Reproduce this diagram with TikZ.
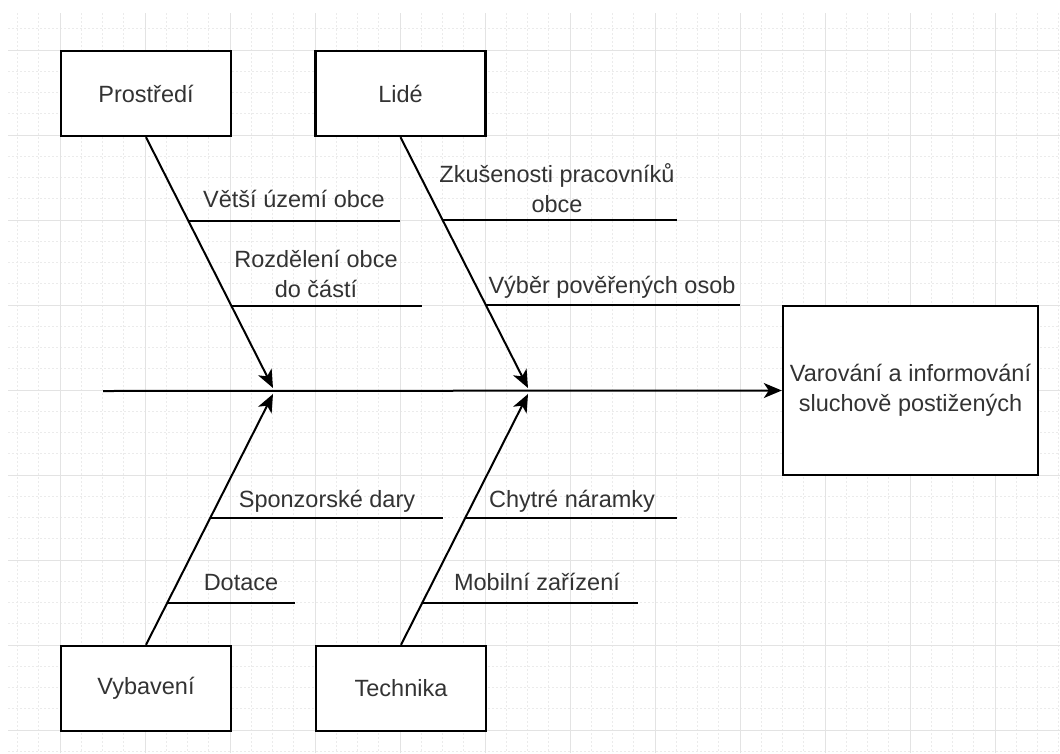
\documentclass[tikz,border=0pt]{standalone}
\usepackage{fontspec}
\setmainfont{Liberation Sans}
\usetikzlibrary{arrows.meta}
\definecolor{txt}{HTML}{333333}
\definecolor{gridminor}{HTML}{EBEBEB}
\definecolor{gridmajor}{HTML}{E3E3E3}
\newcommand\lblfont{\fontsize{23.5}{30}\selectfont}
\newcommand\twoline[2]{\begin{tabular}[b]{@{}c@{}}#1\\#2\end{tabular}}
\begin{document}
\begin{tikzpicture}[x=1pt,y=-1pt,
  box/.style={draw=black, line width=2.4pt, fill=white, minimum width=170pt, minimum height=85pt, inner sep=0pt, font=\lblfont, text=txt},
  bone/.style={line width=2pt},
  arr/.style={-{Stealth[length=18pt,width=15pt,inset=5pt]}},
  lbl/.style={anchor=base, inner sep=0pt, text=txt, font=\lblfont},
  minorgrid/.style={gridminor, line width=0.8pt, dash pattern=on 2pt off 2pt},
  majorgrid/.style={gridmajor, line width=1pt}
]
\fill[white] (0,0) rectangle (1060,753);
\useasboundingbox (0,0) rectangle (1060,753);
% grid
\foreach \i in {0,...,49} \draw[minorgrid] ({17.5+21.25*\i},13) -- ({17.5+21.25*\i},753);
\foreach \j in {0,...,34} \draw[minorgrid] (8,{28.75+21.25*\j}) -- (1060,{28.75+21.25*\j});
\foreach \k in {0,...,11} \draw[majorgrid] ({60+85*\k},13) -- ({60+85*\k},753);
\foreach \k in {0,...,8} \draw[majorgrid] (8,{50+85*\k}) -- (1060,{50+85*\k});

% boxes
\node[box] (prost) at (146,93.5) {Prostředí};
\node[box] (lide) at (400.5,93.5) {Lidé};
\node[box] (vyb) at (146,688.5) {Vybavení};
\node[box] (tech) at (401,688.5) {Technika};
\node[box, minimum width=255pt, minimum height=169pt, align=center] (res) at (910.5,390.5) {Varování a informování\\sluchově postižených};

% spine
\coordinate (start) at (103,391);
\coordinate (j1u) at (273,388);
\coordinate (j1d) at (273,394);
\coordinate (j2u) at (528,388);
\coordinate (j2d) at (528,394);
\draw[bone,arr] (start) -- (res.west);
\draw[bone,arr] (prost.south) -- (j1u);
\draw[bone,arr] (vyb.north) -- (j1d);
\draw[bone,arr] (lide.south) -- (j2u);
\draw[bone,arr] (tech.north) -- (j2d);

% sub-branches
\coordinate (a1) at (188,221); \coordinate (a2) at (400,221);
\coordinate (b1) at (232,306); \coordinate (b2) at (422,306);
\coordinate (c1) at (443,220); \coordinate (c2) at (677,220);
\coordinate (d1) at (485,305); \coordinate (d2) at (740,305);
\coordinate (e1) at (210,518); \coordinate (e2) at (443,518);
\coordinate (f1) at (465,518); \coordinate (f2) at (677,518);
\coordinate (g1) at (168,603); \coordinate (g2) at (295,603);
\coordinate (h1) at (423,603); \coordinate (h2) at (638,603);
\foreach \p in {a,b,c,d,e,f,g,h} \draw[bone] (\p1) -- (\p2);

\node[lbl] (la) at (294,207) {Větší území obce};
\node[lbl] (lb) at (316,297) {\twoline{Rozdělení obce}{do částí}};
\node[lbl] (lc) at (557,212) {\twoline{Zkušenosti pracovníků}{obce}};
\node[lbl] (ld) at (612,293) {Výběr pověřených osob};
\node[lbl] (le) at (327,507) {Sponzorské dary};
\node[lbl] (lf) at (572,507) {Chytré náramky};
\node[lbl] (lg) at (241,590) {Dotace};
\node[lbl] (lh) at (537,590) {Mobilní zařízení};
\end{tikzpicture}
\end{document}
